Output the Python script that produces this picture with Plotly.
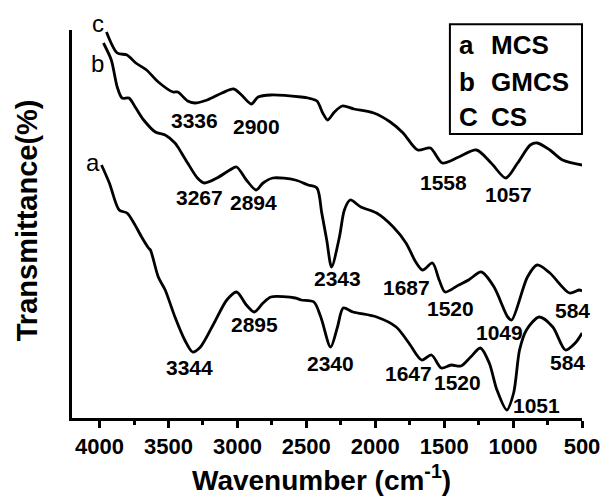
import plotly.graph_objects as go

# Curve a (MCS)
a_wn = [3986, 3929, 3858, 3801, 3751, 3695, 3645, 3631, 3574, 3524, 3453, 3382, 3325, 3268, 3169, 3077,
        3006, 2935, 2878, 2814, 2757, 2580, 2537, 2445, 2395, 2324, 2274, 2232, 2161, 1990, 1848, 1756,
        1663, 1592, 1521, 1450, 1379, 1308, 1237, 1173, 1117, 1046, 996, 953, 903, 811, 712, 620, 549, 499]
a_t = [253, 235, 208, 205, 195, 181, 170, 168, 141, 128, 101, 78, 66, 71, 95, 118,
       126, 113, 106, 115, 121, 120, 118, 116, 101, 71, 91, 110, 106, 101, 91, 75,
       58, 63, 50, 53, 52, 61, 70, 55, 28, 8, 25, 68, 88, 101, 91, 68, 75, 85]

# Curve b (GMCS)
b_wn = [3972, 3915, 3872, 3837, 3787, 3737, 3680, 3595, 3524, 3453, 3432, 3361, 3290, 3240, 3148, 3055,
        3006, 2935, 2864, 2814, 2743, 2580, 2487, 2423, 2388, 2352, 2317, 2260, 2224, 2182, 2104, 1990,
        1869, 1777, 1706, 1656, 1585, 1536, 1493, 1394, 1323, 1230, 1138, 1039, 1010, 896, 825, 733,
        591, 520, 499]
b_t = [375, 358, 331, 320, 320, 310, 298, 286, 283, 275, 271, 255, 240, 235, 240, 248,
       251, 238, 228, 235, 240, 238, 233, 230, 205, 178, 151, 181, 208, 218, 211, 205,
       191, 175, 156, 148, 155, 138, 126, 133, 138, 146, 131, 101, 98, 141, 153, 145,
       125, 128, 127]

# Curve c (CS)
c_wn = [3950, 3872, 3801, 3737, 3659, 3574, 3467, 3432, 3361, 3311, 3219, 3112, 3027, 2970, 2899, 2850,
        2757, 2537, 2487, 2423, 2381, 2345, 2296, 2239, 2154, 2011, 1891, 1798, 1692, 1600, 1514, 1394,
        1266, 1159, 1053, 967, 875, 825, 733, 641, 499]
c_t = [386, 365, 363, 355, 348, 336, 326, 326, 317, 315, 318, 325, 329, 323, 314, 321,
       323, 321, 320, 317, 305, 298, 306, 312, 309, 305, 296, 285, 268, 270, 255, 261,
       268, 255, 240, 255, 273, 275, 268, 258, 253]

# Peak labels: text, wavenumber position, transmittance position
peak_text = ["3336", "2900", "3267", "2894", "1558", "1057", "2343", "1687", "1520", "1049", "584",
             "2340", "1647", "1520", "1051", "584", "3344", "2895"]
peak_x = [3311, 2864, 3276, 2885, 1507, 1031, 2274, 1770, 1457, 1102, 570,
          2324, 1756, 1401, 832, 605, 3347, 2878]
peak_y = [298, 292, 221, 216, 236, 224, 140, 131, 110, 86, 108,
          55, 45, 36, 13, 56, 51, 94]

# Curve letters a and b (data coords); c sits above the axis top (paper coords)
curve_letters = ["b", "a"]
letter_x = [4014, 4050]
letter_y = [355, 256]
c_letter_x = 4014
c_letter_py = 1.018

legend_keys = ["a", "b", "C"]
legend_names = ["MCS", "GMCS", "CS"]

tick_vals = [4000, 3500, 3000, 2500, 2000, 1500, 1000, 500]
tick_text = [str(v) for v in tick_vals]

FONT = "Liberation Sans, Arial, sans-serif"

fig = go.Figure()
for wn, t in [(a_wn, a_t), (b_wn, b_t), (c_wn, c_t)]:
    fig.add_trace(go.Scatter(x=wn, y=t, mode="lines",
                             line=dict(color="black", width=2.8, shape="spline", smoothing=0.8),
                             showlegend=False, hoverinfo="skip", cliponaxis=False))

annotations = []
for txt, x, y in zip(peak_text, peak_x, peak_y):
    annotations.append(dict(x=x, y=y, text=txt, showarrow=False, xref="x", yref="y",
                            font=dict(family=FONT, size=21, color="black", weight="bold")))
for txt, x, y in zip(curve_letters, letter_x, letter_y):
    annotations.append(dict(x=x, y=y, text=txt, showarrow=False, xref="x", yref="y",
                            font=dict(family=FONT, size=24, color="black")))
annotations.append(dict(x=c_letter_x, y=c_letter_py, text="c", showarrow=False, xref="x", yref="paper",
                        yanchor="middle", font=dict(family=FONT, size=24, color="black")))

leg_y = [0.961, 0.866, 0.776]
for k, n, y in zip(legend_keys, legend_names, leg_y):
    annotations.append(dict(x=0.754, y=y, text=k, showarrow=False, xref="paper", yref="paper",
                            xanchor="left", yanchor="middle",
                            font=dict(family=FONT, size=26, color="black", weight="bold")))
    annotations.append(dict(x=0.818, y=y, text=n, showarrow=False, xref="paper", yref="paper",
                            xanchor="left", yanchor="middle",
                            font=dict(family=FONT, size=26, color="black", weight="bold")))

annotations.append(dict(x=-0.088, y=0.51, text="Transmittance(%)", textangle=-90, showarrow=False,
                        xref="paper", yref="paper", xanchor="center", yanchor="middle",
                        font=dict(family=FONT, size=29, color="black", weight="bold")))
annotations.append(dict(x=0.49, y=-0.205, text="Wavenumber (cm<sup>-1</sup>)", showarrow=False,
                        xref="paper", yref="paper", xanchor="center", yanchor="bottom",
                        font=dict(family=FONT, size=28, color="black", weight="bold")))

fig.update_layout(
    width=612, height=501,
    margin=dict(l=72, r=19, t=30, b=83),
    plot_bgcolor="white", paper_bgcolor="white",
    annotations=annotations,
    shapes=[dict(type="rect", xref="paper", yref="paper", x0=0.741, x1=1.0, y0=0.732, y1=1.015,
                 line=dict(color="black", width=2))],
    xaxis=dict(range=[4200, 500], showgrid=False, zeroline=False, showline=True, linecolor="black",
               linewidth=3, ticks="outside", ticklen=7, tickwidth=2.5, tickcolor="black",
               tickvals=tick_vals, ticktext=tick_text,
               tickfont=dict(family=FONT, size=22, color="black", weight="bold"),
               minor=dict(dtick=250, tick0=500, ticks="outside", ticklen=4, tickwidth=2.5,
                          tickcolor="black", showgrid=False)),
    yaxis=dict(range=[0, 388], showgrid=False, zeroline=False, showline=True, linecolor="black",
               linewidth=3, showticklabels=False, ticks=""),
)

fig.write_html("out.html")
